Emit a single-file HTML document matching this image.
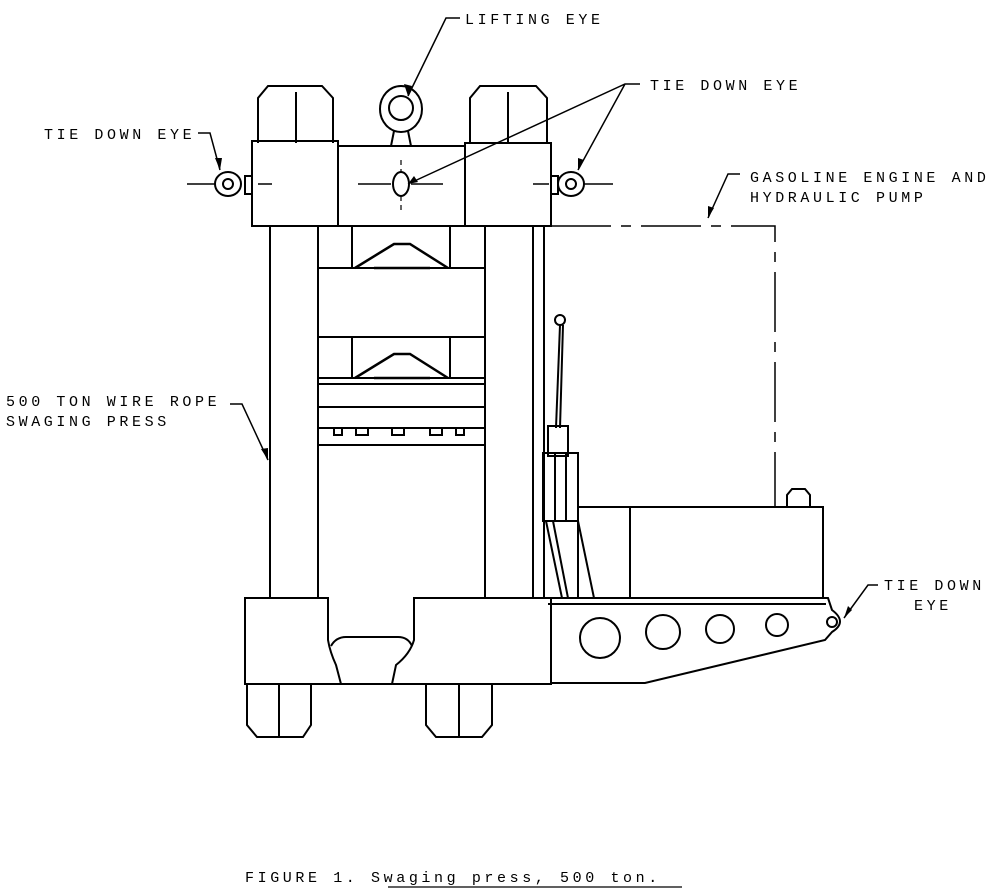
<!DOCTYPE html>
<html><head><style>
html,body{margin:0;padding:0;background:#fff;}
svg{display:block}
text{font-family:"Liberation Mono",monospace;font-size:15px;fill:#000;letter-spacing:3.6px}
</style></head><body>
<svg width="993" height="893" viewBox="0 0 993 893" xmlns="http://www.w3.org/2000/svg">
<g fill="none" stroke="#000" stroke-width="2">
<path d="M258,143 V98 L268,86 H322 L333,98 V143"/><line x1="296" y1="92" x2="296" y2="143"/>
<path d="M470,143 V98 L480,86 H536 L547,98 V143"/><line x1="508" y1="92" x2="508" y2="143"/>
<rect x="252" y="141" width="86" height="85"/>
<rect x="338" y="146" width="127" height="80"/>
<rect x="465" y="143" width="86" height="83"/>
<ellipse cx="401" cy="109" rx="21" ry="23"/><circle cx="401" cy="108" r="12"/>
<path d="M394,131 L391,146 M408,131 L411,146"/>
<ellipse cx="228" cy="184" rx="13" ry="12"/><circle cx="228" cy="184" r="5"/><rect x="245" y="176" width="7" height="18"/>
<ellipse cx="571" cy="184" rx="13" ry="12"/><circle cx="571" cy="184" r="5"/><rect x="551" y="176" width="7" height="18"/>
<ellipse cx="401" cy="184" rx="8" ry="12"/>
<path d="M187,184 H215 M258,184 H272 M358,184 H391 M411,184 H443 M533,184 H549 M584,184 H613" stroke-width="1.5"/>
<path d="M401,160 V172 M401,196 V210" stroke-width="1.2" stroke-dasharray="5,4"/>
<path d="M270,226 V598 M318,226 V598 M485,226 V598 M533,226 V598 M544,226 V598"/>
<path d="M318,268 H485 M352,226 V268 M450,226 V268"/>
<path d="M355,268 L394,244 H410 L448,268 M374,268 H430" stroke-width="2.5"/>
<path d="M318,337 H485 M318,378 H485 M352,337 V378 M450,337 V378"/>
<path d="M355,378 L394,354 H410 L448,378 M374,378 H430" stroke-width="2.5"/>
<rect x="318" y="384" width="167" height="23"/><rect x="318" y="407" width="167" height="38"/>
<path d="M318,428 H485"/>
<rect x="334" y="428" width="8" height="7"/><rect x="356" y="428" width="12" height="7"/><rect x="392" y="428" width="12" height="7"/><rect x="430" y="428" width="12" height="7"/><rect x="456" y="428" width="8" height="7"/>
<!-- base -->
<path d="M341,684 H245 V598 H328 V640 Q330,652 336,665 L341,684"/>
<path d="M392,684 H551 V598 H414 V640 Q410,654 396,665 L392,684"/>
<path d="M341,684 H392"/>
<path d="M331,646 Q336,637 346,637 H398 Q408,637 412,646"/>
<path d="M247,684 V725 L257,737 H303 L311,725 V684"/><line x1="279" y1="684" x2="279" y2="737"/>
<path d="M426,684 V725 L436,737 H482 L492,725 V684"/><line x1="459" y1="684" x2="459" y2="737"/>
<circle cx="560" cy="320" r="5"/><path d="M560,325 L556,428 M563,325 L560,428"/>
<rect x="548" y="426" width="20" height="30"/>
<rect x="543" y="453" width="35" height="68"/><path d="M555,453 V521 M566,453 V521"/>
<path d="M546,521 L562,598 M553,521 L568,598 M578,521 L594,598"/>
<rect x="578" y="507" width="245" height="91"/><path d="M630,507 V598"/>
<path d="M787,507 V495 L792,489 H805 L810,495 V507"/>
<path d="M548,598 H828 L832,610 Q848,622 832,632 L825,640 L645,683 H551"/>
<path d="M548,604 H826"/>
<circle cx="600" cy="638" r="20"/><circle cx="663" cy="632" r="17"/><circle cx="720" cy="629" r="14"/><circle cx="777" cy="625" r="11"/>
<circle cx="832" cy="622" r="5"/>
<path d="M551,226 H775 V507" stroke-width="1.5" stroke-dasharray="60,10,10,10"/>
</g>
<g fill="none" stroke="#000" stroke-width="1.5">
<path d="M460,18 H446 L408,96"/>
<path d="M640,84 H625 L408,184 M625,84 L578,170"/>
<path d="M198,133 H210 L220,170"/>
<path d="M740,174 H728 L708,218"/>
<path d="M230,404 H242 L268,460"/>
<path d="M878,585 H868 L844,618"/>
<path d="M388,887 H682" stroke-width="1.2"/>
</g>
<g fill="#000">
<polygon points="408,96 404,84 412,86"/><polygon points="408,184 414,176 418,182"/>
<polygon points="578,170 578,158 584,160"/><polygon points="220,170 215,158 222,158"/>
<polygon points="708,218 708,206 714,208"/><polygon points="268,460 261,449 268,448"/>
<polygon points="844,618 848,606 852,610"/>
</g>
<text x="465" y="24">LIFTING EYE</text>
<text x="650" y="90">TIE DOWN EYE</text>
<text x="44" y="139">TIE DOWN EYE</text>
<text x="750" y="182">GASOLINE ENGINE AND</text>
<text x="750" y="202">HYDRAULIC PUMP</text>
<text x="6" y="406">500 TON WIRE ROPE</text>
<text x="6" y="426">SWAGING PRESS</text>
<text x="884" y="590">TIE DOWN</text>
<text x="914" y="610">EYE</text>
<text x="245" y="882">FIGURE 1.  Swaging press, 500 ton.</text>
</svg>
</body></html>
